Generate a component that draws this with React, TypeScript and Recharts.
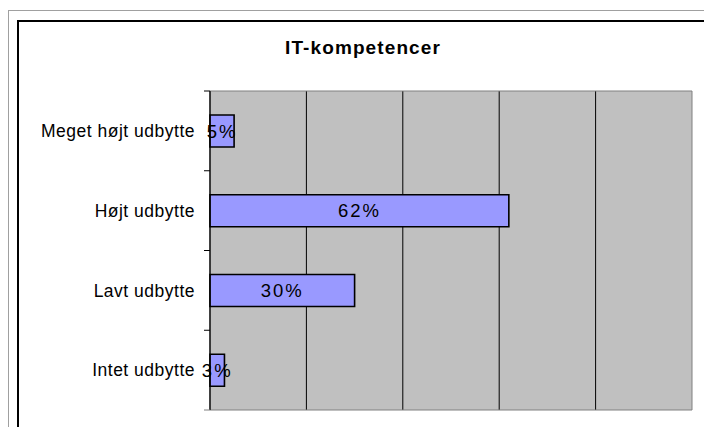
import { BarChart, Bar, XAxis, YAxis, CartesianGrid, ReferenceArea, LabelList } from 'recharts';

const categories = ['Meget højt udbytte', 'Højt udbytte', 'Lavt udbytte', 'Intet udbytte'];
const shares = [5, 62, 30, 3];
const xTicks = [0, 20, 40, 60, 80];
const title = 'IT-kompetencer';

const data = categories.map((name, i) => ({ name, value: shares[i] }));

const W = 704;
const H = 427;
const MARGIN = { top: 91, right: 12, bottom: 17, left: 0 };
const Y_AXIS_W = 210;
const TICK_SIZE = 6;
const TICK_MARGIN = 9;
const BAND = (H - MARGIN.top - MARGIN.bottom) / categories.length;
const FONT = '"Liberation Sans", Arial, sans-serif';

// category label plus the boundary tick marks Excel puts between categories
const CategoryTick = ({ x, y, payload, index }: any) => {
  const axisX = x + TICK_SIZE + TICK_MARGIN;
  const last = index === categories.length - 1;
  return (
    <g>
      <line x1={axisX - TICK_SIZE} x2={axisX} y1={y - BAND / 2} y2={y - BAND / 2} stroke="#000" />
      {last && (
        <line x1={axisX - TICK_SIZE} x2={axisX} y1={y + BAND / 2} y2={y + BAND / 2} stroke="#808080" />
      )}
      <text x={x} y={y} dy="0.355em" textAnchor="end" fill="#000" fontSize={17.5} letterSpacing={0.5} fontFamily={FONT}>
        {payload.value}
      </text>
    </g>
  );
};

// grid lines at the value ticks, placed through the x axis scale
const gridX = ({ xAxis }: any) => {
  const scale = xAxis?.scale;
  if (!scale) return [];
  const fn = typeof scale === 'function' ? scale : scale.map ?? scale.apply;
  return xTicks.map((t) => Number(fn.call(scale, t)));
};

export default function App() {
  return (
    <div style={{ position: 'absolute', left: 0, top: 0, width: W, height: H, overflow: 'hidden', background: '#fff' }}>
      <div style={{ position: 'absolute', left: 8, top: 10, width: 900, height: 600, border: '1px solid #a0a0a0' }} />
      <div style={{ position: 'absolute', left: 17, top: 20, width: 900, height: 600, border: '2px solid #000' }} />
      <div
        style={{
          position: 'absolute',
          left: 0,
          top: 38,
          width: 726,
          textAlign: 'center',
          fontFamily: FONT,
          fontWeight: 'bold',
          fontSize: 19,
          lineHeight: '19px',
          letterSpacing: 1.1,
          color: '#000',
        }}
      >
        {title}
      </div>
      <div style={{ position: 'absolute', left: 0, top: 0 }}>
        <BarChart width={W} height={H} data={data} layout="vertical" margin={MARGIN}>
          <CartesianGrid
            horizontal={false}
            stroke="#000"
            fill="#C0C0C0"
            fillOpacity={1}
            verticalCoordinatesGenerator={gridX}
          />
          <XAxis
            type="number"
            domain={[0, 100]}
            ticks={xTicks}
            height={0}
            tick={false}
            tickLine={false}
            axisLine={false}
          />
          <YAxis
            type="category"
            dataKey="name"
            width={Y_AXIS_W}
            tickSize={TICK_SIZE}
            tickMargin={TICK_MARGIN}
            tickLine={false}
            axisLine={{ stroke: '#000' }}
            tick={<CategoryTick />}
            interval={0}
          />
          <ReferenceArea x1={0} x2={100} fill="none" stroke="#808080" ifOverflow="visible" />
          <Bar dataKey="value" fill="#9999FF" stroke="#000" strokeWidth={1.6} barSize={32} isAnimationActive={false}>
            <LabelList
              dataKey="value"
              position="center"
              formatter={(v: any) => `${v}%`}
              fill="#000"
              fontSize={18.5}
              letterSpacing={2}
              fontFamily={FONT}
            />
          </Bar>
        </BarChart>
      </div>
    </div>
  );
}
